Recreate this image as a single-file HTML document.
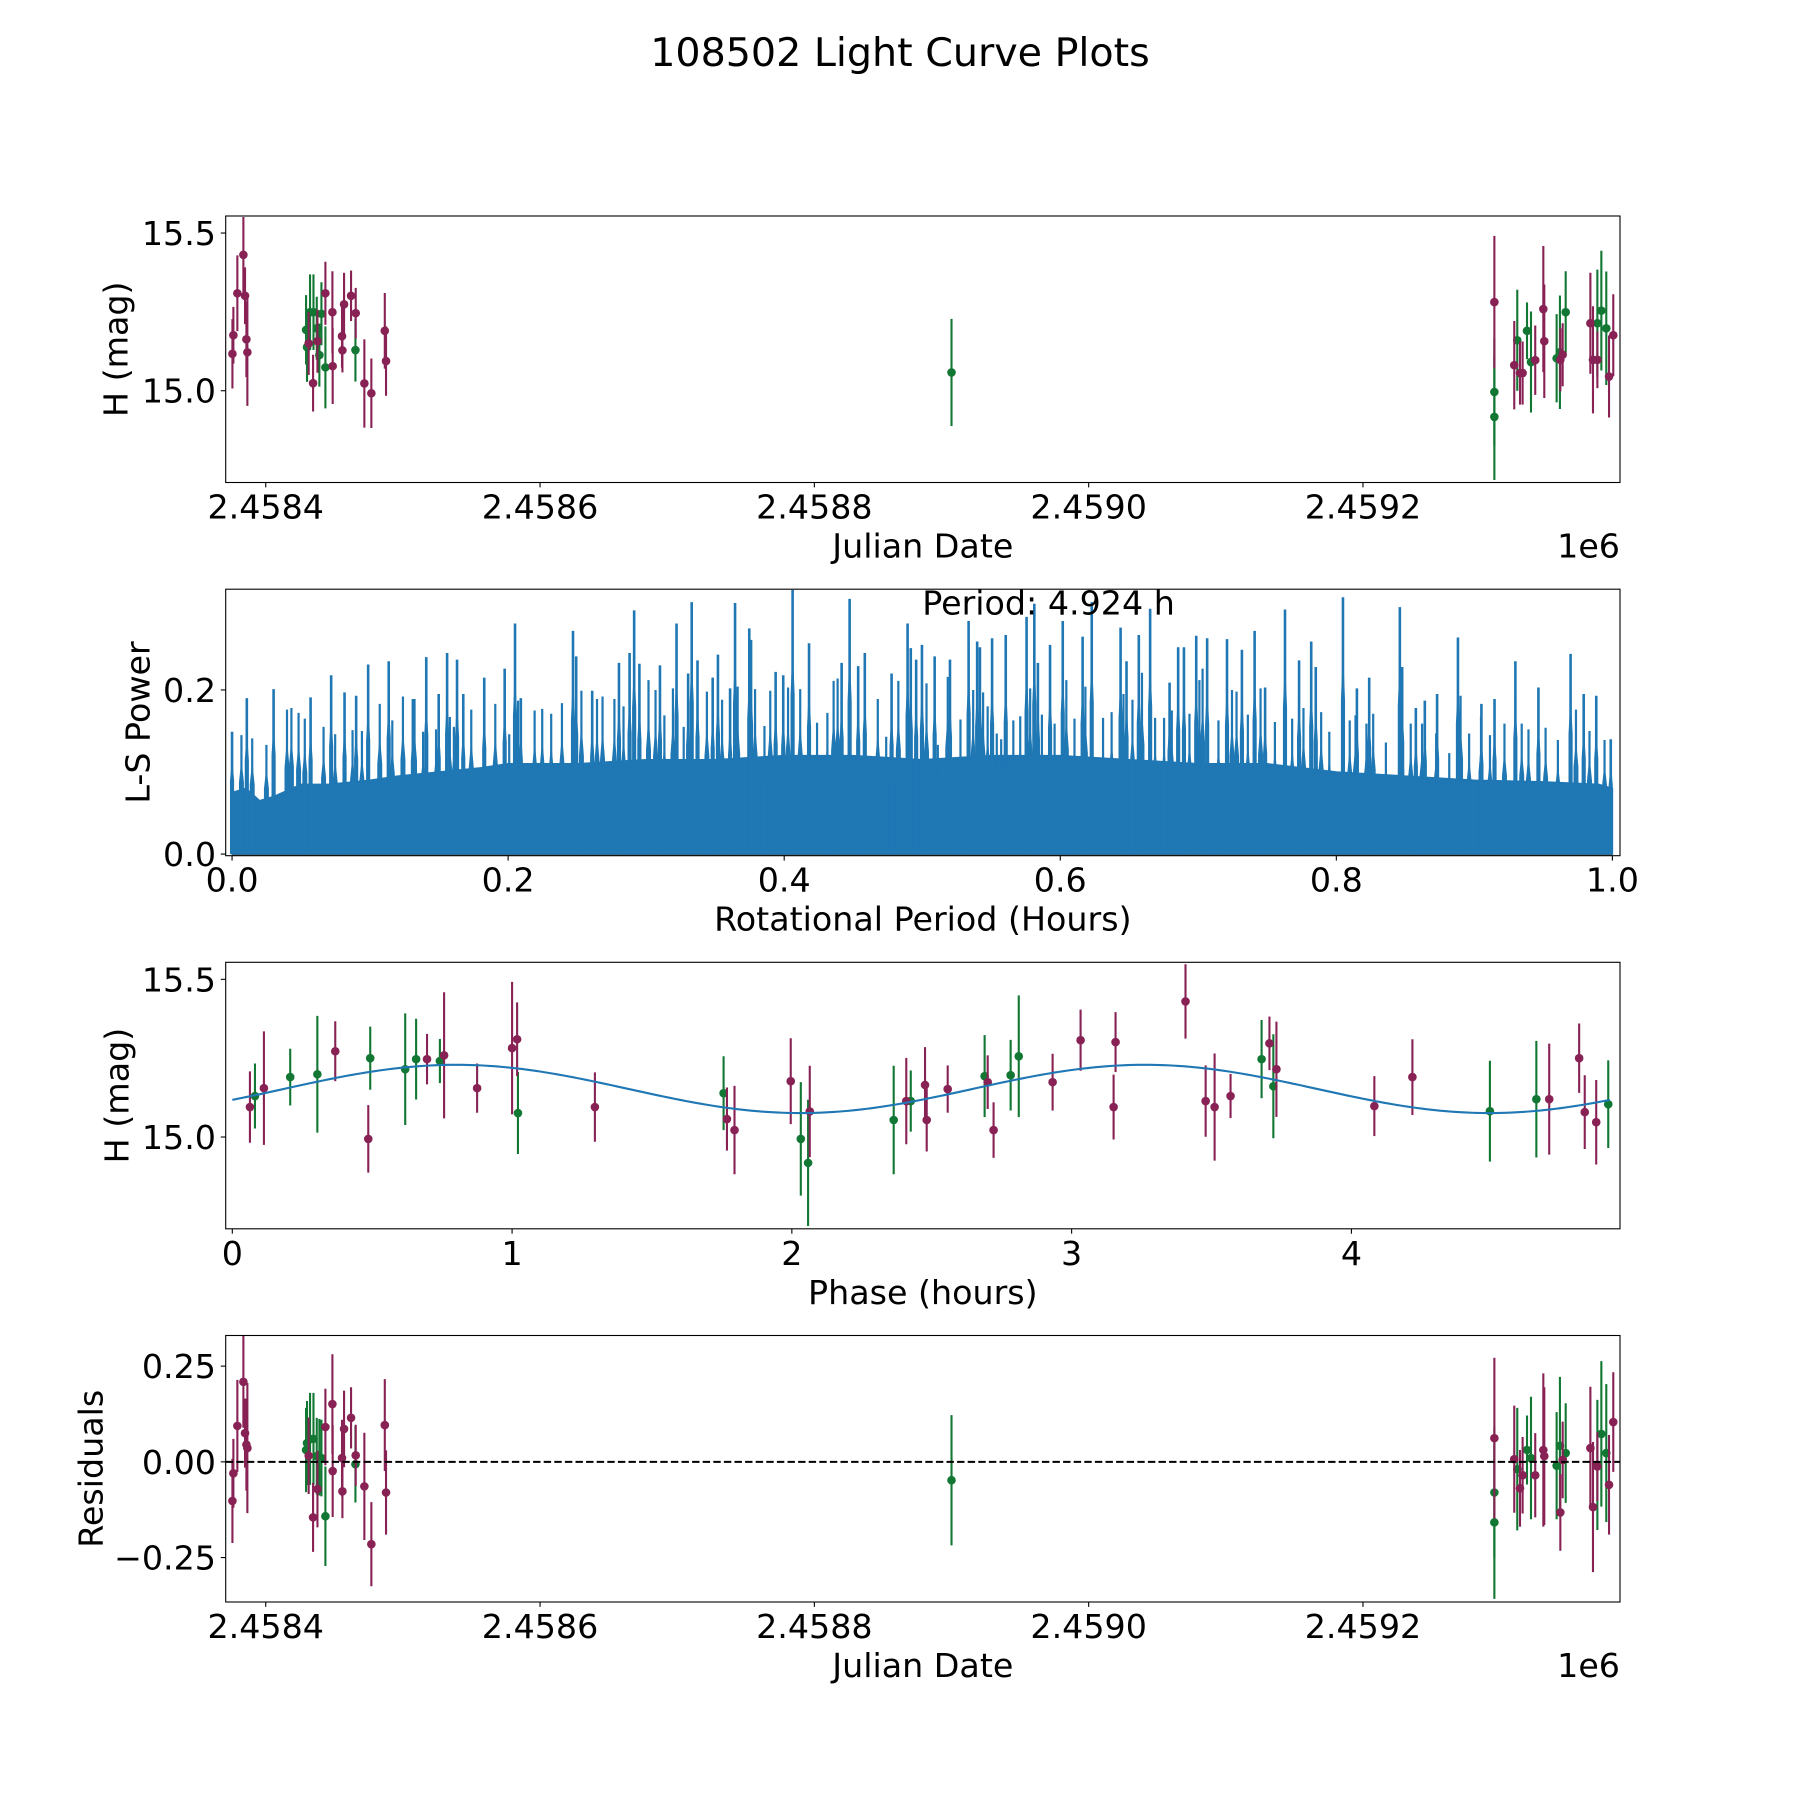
<!DOCTYPE html>
<html><head><meta charset="utf-8"><title>108502 Light Curve Plots</title>
<style>
html,body{margin:0;padding:0;background:#fff;}
svg{display:block;font-family:"DejaVu Sans","Liberation Sans",sans-serif;}
</style></head>
<body>
<svg id="fig" width="1800" height="1800" viewBox="0 0 1800 1800" xmlns="http://www.w3.org/2000/svg">
<rect x="0" y="0" width="1800" height="1800" fill="#fff"/>
<text x="900" y="66" font-size="39.6" text-anchor="middle" fill="#000">108502 Light Curve Plots</text>
</svg>
<script>
// ---------- Panel 1 / 4 data: observations (Julian Date) ----------
const obsJD = [2458375.7,2458376.4,2458379.3,2458383.7,2458384.9,2458385.9,2458386.6,
 2458429.4,2458430.1,2458432.3,2458434.8,2458437.2,2458439.1,2458440.6,2458443.5,2458465.4,
 2458431.3,2458434.5,2458437.7,2458443.5,2458448.6,2458448.8,2458455.6,2458455.9,2458457.1,2458462.2,2458465.6,2458471.9,2458477.0,2458486.8,2458487.7,
 2458900.0,
 2459295.8,2459295.8,2459295.8,2459310.3,2459312.5,2459314.5,2459316.4,2459319.6,2459322.5,2459325.6,2459331.5,2459332.2,2459341.2,2459343.6,2459343.9,2459345.6,2459347.8,2459365.8,2459367.7,2459370.9,2459370.9,2459373.8,2459377.4,2459379.4,2459382.5];
const obsMag = [15.117,15.176,15.309,15.431,15.301,15.163,15.122,
 15.193,15.138,15.249,15.249,15.198,15.113,15.244,15.074,15.129,
 15.150,15.024,15.157,15.309,15.249,15.078,15.173,15.128,15.274,15.301,15.246,15.023,14.992,15.190,15.094,
 15.058,
 15.281,14.996,14.917,15.081,15.160,15.056,15.056,15.190,15.091,15.097,15.259,15.157,15.103,15.122,15.098,15.114,15.249,15.214,15.098,15.098,15.214,15.254,15.198,15.045,15.176];
const obsErr = [0.11,0.09,0.12,0.12,0.09,0.12,0.17,
 0.11,0.11,0.12,0.12,0.10,0.10,0.10,0.13,0.10,
 0.10,0.09,0.10,0.10,0.13,0.12,0.10,0.07,0.10,0.08,0.08,0.14,0.11,0.12,0.11,
 0.17,
 0.21,0.17,0.20,0.14,0.16,0.10,0.10,0.09,0.16,0.11,0.20,0.18,0.14,0.18,0.10,0.10,0.13,0.16,0.17,0.09,0.17,0.19,0.18,0.13,0.13];
const obsBand = ['p','p','p','p','p','p','p',
 'g','g','g','g','g','g','g','g','g',
 'p','p','p','p','p','p','p','p','p','p','p','p','p','p','p',
 'g',
 'p','g','g','p','g','p','p','g','g','p','p','p','g','g','p','p','g','p','p','p','g','g','g','p','p'];
const obsResid = [-0.102,-0.030,0.094,0.209,0.075,0.045,0.036,
 0.031,0.049,0.060,0.060,0.015,0.012,0.010,-0.142,-0.006,
 0.016,-0.145,-0.071,0.091,0.151,-0.024,0.010,-0.077,0.086,0.115,0.017,-0.064,-0.215,0.096,-0.080,
 -0.048,
 0.062,-0.080,-0.158,0.007,-0.019,-0.069,-0.035,0.031,0.010,-0.035,0.031,0.015,-0.010,0.042,-0.132,0.005,0.023,0.036,-0.118,-0.012,-0.008,0.073,0.023,-0.060,0.104];
const jdTicks = [2458400,2458600,2458800,2459000,2459200];
const jdTickLabels = ['2.4584','2.4586','2.4588','2.4590','2.4592'];
const magTicks = [15.0,15.5];
const magTickLabels = ['15.0','15.5'];
const residTicks = [-0.25,0,0.25];
const residTickLabels = ['\u22120.25','0.00','0.25'];

// ---------- Panel 2 data: Lomb-Scargle periodogram ----------
const peakPeriods = [0.0,0.0107,0.0301,0.0569,0.0718,0.0815,0.0899,0.0986,0.1135,0.131,0.1407,0.1497,0.1558,0.163,0.1675,0.1827,0.1975,0.205,0.2092,0.247,0.2493,0.2609,0.2803,0.288,0.2913,0.2951,0.31,0.322,0.3304,0.333,0.3372,0.3482,0.352,0.3608,0.3644,0.3747,0.376,0.3938,0.3993,0.4061,0.418,0.4416,0.4474,0.4536,0.4584,0.4778,0.4894,0.4917,0.4956,
 0.4998,0.509,0.5201,0.5336,0.5398,0.5418,0.5506,0.5605,0.5756,0.5812,0.5838,0.5926,0.6018,0.6162,0.6228,0.6437,0.648,0.6569,0.6651,0.6792,0.6854,0.6896,0.6985,0.7064,0.7208,0.7316,0.7408,0.7484,0.7628,0.773,0.7818,0.7851,0.8048,0.8149,0.8238,0.846,0.8477,0.8576,0.8641,0.873,0.8881,0.9051,0.9146,0.9297,0.9464,0.9697,0.9792,0.9883,0.9988];
const peakPowers = [0.149,0.190,0.201,0.191,0.218,0.197,0.193,0.231,0.235,0.189,0.240,0.195,0.245,0.237,0.195,0.215,0.226,0.281,0.190,0.272,0.241,0.199,0.233,0.245,0.297,0.232,0.230,0.281,0.220,0.307,0.236,0.215,0.243,0.202,0.306,0.275,0.261,0.222,0.218,0.322,0.257,0.233,0.311,0.229,0.245,0.220,0.281,0.251,0.237,
 0.255,0.241,0.237,0.284,0.259,0.252,0.263,0.267,0.289,0.305,0.233,0.255,0.284,0.265,0.307,0.276,0.235,0.267,0.299,0.209,0.252,0.252,0.266,0.263,0.262,0.249,0.272,0.203,0.298,0.236,0.259,0.228,0.313,0.202,0.215,0.301,0.228,0.178,0.187,0.195,0.264,0.183,0.189,0.235,0.203,0.244,0.195,0.193,0.140];
const midPeriods = [0.0068,0.0146,0.0249,0.0398,0.043,0.0482,0.0527,0.0663,0.0747,0.0873,0.0941,0.107,0.1161,0.1238,0.1322,0.1384,0.1478,0.1578,0.1607,0.1733,0.1907,0.2008,0.2072,0.2192,0.2247,0.2312,0.239,0.2531,0.2644,0.2684,0.277,0.2836,0.3017,0.3068,0.3132,0.3194,0.3272,0.344,0.355,0.3663,0.3789,0.3857,0.3899,0.4028,0.4116,0.4238,0.4313,0.4358,0.4387,0.4678,0.4739,0.4827,
 0.5031,0.5113,0.5185,0.5277,0.5369,0.5441,0.5474,0.554,0.5572,0.566,0.571,0.5782,0.5867,0.5959,0.6044,0.6103,0.6182,0.631,0.6372,0.6458,0.6523,0.6592,0.6687,0.6752,0.6808,0.6936,0.7008,0.7031,0.7146,0.7244,0.7277,0.7359,0.7451,0.7555,0.768,0.7762,0.789,0.7949,0.8097,0.8139,0.8218,0.8267,0.8359,0.8474,0.8539,0.8621,0.8723,0.8818,0.89,0.8962,0.9048,0.9113,0.9218,0.9343,0.9392,0.9516,0.9605,0.9736,0.9834,0.9943];
const midPowers = [0.145,0.141,0.133,0.176,0.178,0.172,0.165,0.155,0.146,0.151,0.150,0.183,0.163,0.192,0.189,0.149,0.152,0.167,0.155,0.176,0.183,0.146,0.187,0.175,0.177,0.171,0.184,0.199,0.189,0.192,0.189,0.180,0.212,0.200,0.169,0.202,0.155,0.198,0.188,0.204,0.201,0.156,0.199,0.203,0.201,0.160,0.172,0.211,0.214,0.189,0.143,0.211,
 0.208,0.133,0.216,0.164,0.200,0.197,0.180,0.147,0.140,0.163,0.168,0.202,0.170,0.159,0.212,0.165,0.204,0.166,0.173,0.195,0.188,0.221,0.166,0.166,0.175,0.171,0.212,0.226,0.163,0.200,0.198,0.170,0.202,0.161,0.165,0.178,0.173,0.149,0.163,0.169,0.159,0.171,0.136,0.171,0.159,0.159,0.147,0.123,0.193,0.147,0.167,0.145,0.159,0.159,0.152,0.154,0.139,0.176,0.150,0.139];
const basePeriods = [0.0,0.01,0.02,0.03,0.05,0.07,0.1,0.12,0.15,0.18,0.2,0.25,0.3,0.35,0.4,0.45,0.5,0.55,0.6,0.65,0.7,0.75,0.8,0.85,0.9,0.95,0.99,1.0];
const basePowers = [0.075,0.08,0.065,0.07,0.085,0.085,0.09,0.095,0.1,0.105,0.11,0.11,0.115,0.115,0.12,0.12,0.115,0.12,0.12,0.115,0.11,0.11,0.1,0.095,0.09,0.088,0.085,0.08];
const periodTicks = [0,0.2,0.4,0.6,0.8,1.0];
const periodTickLabels = ['0.0','0.2','0.4','0.6','0.8','1.0'];
const powerTicks = [0,0.2];
const powerTickLabels = ['0.0','0.2'];
const bestPeriodText = ['Period: 4.924 h'];

// ---------- Panel 3 data: phased light curve ----------
const phaseHours = [0.063,0.081,0.113,0.207,0.304,0.368,0.486,0.493,0.618,0.657,0.696,0.742,0.757,0.875,1.0,1.018,1.021,1.296,
 1.756,1.768,1.795,1.996,2.032,2.058,2.064,2.364,2.409,2.425,2.476,2.482,2.557,2.689,2.7,2.721,2.782,2.811,2.932,3.032,3.15,3.157,3.407,
 3.479,3.511,3.568,3.679,3.707,3.721,3.732,4.082,4.218,4.495,4.661,4.707,4.814,4.834,4.875,4.918];
const phaseMag = [15.095,15.130,15.155,15.190,15.199,15.272,14.994,15.250,15.215,15.247,15.247,15.241,15.259,15.155,15.282,15.310,15.076,15.095,
 15.139,15.057,15.022,15.177,14.994,14.918,15.081,15.054,15.114,15.114,15.165,15.054,15.152,15.193,15.174,15.022,15.196,15.256,15.174,15.307,15.095,15.301,15.430,
 15.114,15.095,15.130,15.247,15.297,15.161,15.215,15.098,15.190,15.082,15.120,15.120,15.250,15.079,15.047,15.104];
const phaseErr = [0.113,0.103,0.18,0.09,0.185,0.095,0.107,0.1,0.177,0.128,0.08,0.07,0.2,0.078,0.21,0.117,0.13,0.11,
 0.117,0.1,0.14,0.136,0.18,0.2,0.145,0.172,0.137,0.097,0.12,0.1,0.075,0.13,0.085,0.088,0.112,0.193,0.09,0.097,0.103,0.095,0.118,
 0.113,0.17,0.07,0.124,0.085,0.165,0.151,0.095,0.12,0.16,0.185,0.176,0.11,0.117,0.134,0.139];
const phaseBand = ['p','g','p','g','g','p','p','g','g','g','p','g','p','p','p','p','g','p',
 'g','p','p','p','g','g','p','g','p','g','p','p','p','g','p','p','g','g','p','p','p','p','p',
 'p','p','p','g','p','g','p','p','p','g','g','p','p','p','p','g'];
const phaseTicks = [0,1,2,3,4];
const phaseTickLabels = ['0','1','2','3','4'];
// fitted model: [mean, amplitude, phase of maximum (h), model period (h), full rotation period (h)]
const modelParams = [15.1525,0.0765,0.80,2.462,4.924];

// ---------- layout ----------
const NS = 'http://www.w3.org/2000/svg';
const svg = document.getElementById('fig');
const PURPLE = '#882255', GREEN = '#117733', BLUE = '#1f77b4';
const AX_L = 225.7, AX_R = 1620, AX_H = 266.5;
const panels = {
  p1: {top:216, xmin:2458370.8, xmax:2459387.4, ymin:14.709, ymax:15.554},
  p2: {top:589.2, xmin:-0.0046, xmax:1.0055, ymin:-0.002, ymax:0.3228},
  p3: {top:962.3, xmin:-0.0236, xmax:4.96, ymin:14.709, ymax:15.554},
  p4: {top:1335.5, xmin:2458370.8, xmax:2459387.4, ymin:-0.366, ymax:0.330}
};
function sx(p, v){ return AX_L + (v - p.xmin) / (p.xmax - p.xmin) * (AX_R - AX_L); }
function sy(p, v){ return p.top + AX_H - (v - p.ymin) / (p.ymax - p.ymin) * AX_H; }
function mk(tag, attrs, parent){
  const e = document.createElementNS(NS, tag);
  for (const k in attrs) e.setAttribute(k, attrs[k]);
  (parent || svg).appendChild(e);
  return e;
}
function makeGroup(name){
  const g = mk('g', {});
  
  
  return g;
}
function clipFor(id, p){
  const cp = mk('clipPath', {id: id});
  mk('rect', {x: AX_L, y: p.top, width: AX_R - AX_L, height: AX_H}, cp);
}
function frame(g, p){
  const r = mk('rect', {x: AX_L, y: p.top, width: AX_R - AX_L, height: AX_H, fill: 'none', stroke: '#000', 'stroke-width': 1.1}, g);
  
  
}
function xTicks(g, p, ticks, labels){
  ticks.forEach((t, i) => {
    const x = sx(p, t);
    const bot = p.top + AX_H;
    const l = mk('line', {x1: x, x2: x, y1: bot, y2: bot + 4.9, stroke: '#000', 'stroke-width': 1.1}, g);
    
    
    const tx = mk('text', {x: x, y: bot + 36, 'font-size': 33.3, 'text-anchor': 'middle', fill: '#000'}, g);
    tx.textContent = labels[i];
    
    
  });
}
function yTicks(g, p, ticks, labels){
  ticks.forEach((t, i) => {
    const y = sy(p, t);
    const l = mk('line', {x1: AX_L - 4.9, x2: AX_L, y1: y, y2: y, stroke: '#000', 'stroke-width': 1.1}, g);
    
    
    const tx = mk('text', {x: AX_L - 9.7, y: y + 12, 'font-size': 33.3, 'text-anchor': 'end', fill: '#000'}, g);
    tx.textContent = labels[i];
    
    
  });
}
function xLabel(g, p, text){
  const t = mk('text', {x: (AX_L + AX_R) / 2, y: p.top + AX_H + 75, 'font-size': 33.3, 'text-anchor': 'middle', fill: '#000'}, g);
  t.textContent = text;
  
  
}
function yLabel(g, p, text, cx){
  const cy = p.top + AX_H / 2;
  const t = mk('text', {x: cx, y: cy, 'font-size': 33.3, 'text-anchor': 'middle', 'dominant-baseline': 'central', fill: '#000', transform: 'rotate(-90 ' + cx + ' ' + cy + ')'}, g);
  t.textContent = text;
  
  
}
function offsetText(g, p){
  const t = mk('text', {x: AX_R, y: p.top + AX_H + 75, 'font-size': 33.3, 'text-anchor': 'end', fill: '#000'}, g);
  t.textContent = '1e6';
  
  
}
function errPoints(g, p, xs, ys, errs, bands, clip){
  ['g', 'p'].forEach(b => {
    const col = b === 'g' ? GREEN : PURPLE;
    for (let i = 0; i < xs.length; i++) {
      if (bands[i] !== b) continue;
      const x = sx(p, xs[i]);
      const bar = mk('line', {x1: x, x2: x, y1: sy(p, ys[i] - errs[i]), y2: sy(p, ys[i] + errs[i]), stroke: col, 'stroke-width': 2.1, 'clip-path': clip}, g);
      
      
      const c = mk('circle', {cx: x, cy: sy(p, ys[i]), r: 4.3, fill: col, 'clip-path': clip}, g);
      
      
    }
  });
}
function spikes(g, p, periods, powers, w, shoulder, name){
  for (let i = 0; i < periods.length; i++) {
    const x = sx(p, periods[i]);
    const ln = mk('line', {x1: x, x2: x, y1: sy(p, 0), y2: sy(p, powers[i]), stroke: BLUE, 'stroke-width': w, 'clip-path': 'url(#c2)'}, g);
    
    
    const x2 = sx(p, periods[i] + shoulder);
    const x3 = sx(p, periods[i] - shoulder);
    const sh = mk('polygon', {points: x3 + ',' + sy(p, 0) + ' ' + x3 + ',' + sy(p, powers[i] * 0.6) + ' ' + x + ',' + sy(p, powers[i] * 0.8) + ' ' + x2 + ',' + sy(p, powers[i] * 0.6) + ' ' + x2 + ',' + sy(p, 0), fill: BLUE, 'clip-path': 'url(#c2)'}, g);
    
    
  }
}

// ---------- Panel 1 ----------
(function(){
  const p = panels.p1;
  const g = makeGroup('light-curve-panel');
  clipFor('c1', p);
  errPoints(g, p, obsJD, obsMag, obsErr, obsBand, 'url(#c1)');
  frame(g, p);
  xTicks(g, p, jdTicks, jdTickLabels);
  yTicks(g, p, magTicks, magTickLabels);
  xLabel(g, p, 'Julian Date');
  yLabel(g, p, 'H (mag)', 116);
  offsetText(g, p);
})();

// ---------- Panel 2 ----------
(function(){
  const p = panels.p2;
  const g = makeGroup('periodogram-panel');
  clipFor('c2', p);
  let d = 'M' + sx(p, basePeriods[0]) + ',' + sy(p, 0);
  for (let i = 0; i < basePeriods.length; i++) d += ' L' + sx(p, basePeriods[i]) + ',' + sy(p, basePowers[i]);
  d += ' L' + sx(p, basePeriods[basePeriods.length - 1]) + ',' + sy(p, 0) + ' Z';
  const body = mk('path', {d: d, fill: BLUE, stroke: BLUE, 'stroke-width': 1.5, 'clip-path': 'url(#c2)'}, g);
  
  
  spikes(g, p, midPeriods, midPowers, 2.2, 0.0018, 'periodogram-mid-spike');
  spikes(g, p, peakPeriods, peakPowers, 2.6, 0.0015, 'periodogram-peak');
  const bl = mk('line', {x1: sx(p, 0), x2: sx(p, 1), y1: sy(p, 0) + 1, y2: sy(p, 0) + 1, stroke: '#000', 'stroke-width': 1, opacity: 0.5}, g);
  
  
  frame(g, p);
  xTicks(g, p, periodTicks, periodTickLabels);
  yTicks(g, p, powerTicks, powerTickLabels);
  xLabel(g, p, 'Rotational Period (Hours)');
  yLabel(g, p, 'L-S Power', 138);
  const pt = mk('text', {x: sx(p, 0.5), y: p.top + 25.5, 'font-size': 33.3, fill: '#000'}, g);
  pt.textContent = bestPeriodText[0];
  
  
})();

// ---------- Panel 3 ----------
(function(){
  const p = panels.p3;
  const g = makeGroup('phased-curve-panel');
  clipFor('c3', p);
  errPoints(g, p, phaseHours, phaseMag, phaseErr, phaseBand, 'url(#c3)');
  let d = '';
  const n = 300;
  for (let i = 0; i <= n; i++) {
    const ph = modelParams[4] * i / n;
    const m = modelParams[0] + modelParams[1] * Math.cos(2 * Math.PI * (ph - modelParams[2]) / modelParams[3]);
    d += (i ? ' L' : 'M') + sx(p, ph).toFixed(2) + ',' + sy(p, m).toFixed(2);
  }
  const curve = mk('path', {d: d, fill: 'none', stroke: BLUE, 'stroke-width': 2.1, 'clip-path': 'url(#c3)'}, g);
  
  
  frame(g, p);
  xTicks(g, p, phaseTicks, phaseTickLabels);
  yTicks(g, p, magTicks, magTickLabels);
  xLabel(g, p, 'Phase (hours)');
  yLabel(g, p, 'H (mag)', 117);
})();

// ---------- Panel 4 ----------
(function(){
  const p = panels.p4;
  const g = makeGroup('residuals-panel');
  clipFor('c4', p);
  errPoints(g, p, obsJD, obsResid, obsErr, obsBand, 'url(#c4)');
  const zl = mk('line', {x1: AX_L, x2: AX_R, y1: sy(p, 0), y2: sy(p, 0), stroke: '#000', 'stroke-width': 2, 'stroke-dasharray': '7.4,3.2'}, g);
  
  
  frame(g, p);
  xTicks(g, p, jdTicks, jdTickLabels);
  yTicks(g, p, residTicks, residTickLabels);
  xLabel(g, p, 'Julian Date');
  yLabel(g, p, 'Residuals', 91);
  offsetText(g, p);
})();
</script>
</body></html>
